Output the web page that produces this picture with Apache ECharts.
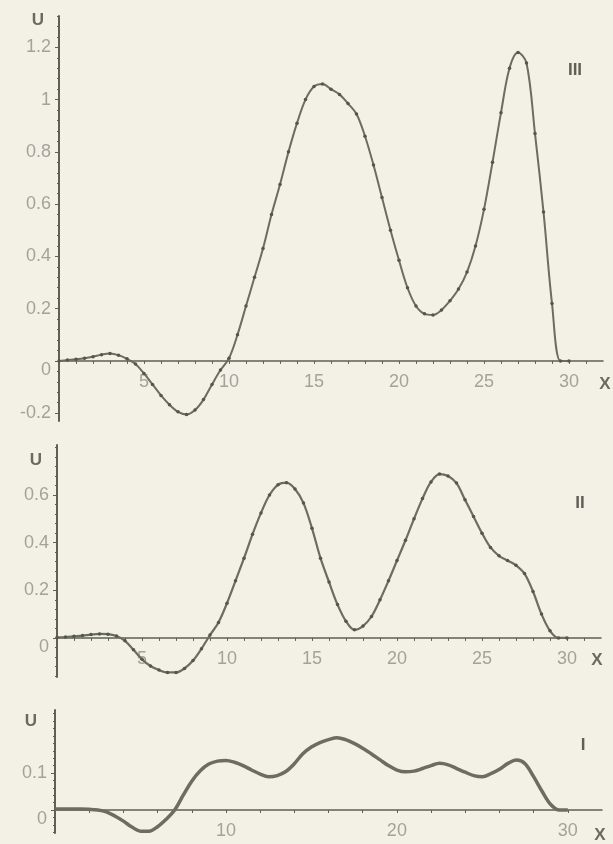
<!DOCTYPE html>
<html>
<head>
<meta charset="utf-8">
<script src="https://cdn.jsdelivr.net/npm/echarts@6/dist/echarts.min.js"></script>
<style>
  html, body { margin: 0; padding: 0; background: #f3f1e6; }
  #chart { width: 613px; height: 844px; }
</style>
</head>
<body>
<div id="chart"></div>
<script>
// x positions (same for the three profiles)
const xs = [0, 0.5, 1, 1.5, 2, 2.5, 3, 3.5, 4, 4.5, 5, 5.5, 6, 6.5, 7, 7.5, 8, 8.5, 9, 9.5,
  10, 10.5, 11, 11.5, 12, 12.5, 13, 13.5, 14, 14.5, 15, 15.5, 16, 16.5, 17, 17.5, 18, 18.5, 19, 19.5,
  20, 20.5, 21, 21.5, 22, 22.5, 23, 23.5, 24, 24.5, 25, 25.5, 26, 26.5, 27, 27.5, 28, 28.5, 29, 29.5, 30];

// profile III (top)
const u3 = [0, 0.003, 0.006, 0.01, 0.016, 0.024, 0.028, 0.022, 0.008, -0.012,
  -0.048, -0.09, -0.132, -0.168, -0.195, -0.205, -0.188, -0.148, -0.09, -0.035,
  0.01, 0.1, 0.21, 0.32, 0.43, 0.56, 0.675, 0.8, 0.91, 1.0,
  1.05, 1.06, 1.04, 1.02, 0.985, 0.945, 0.86, 0.75, 0.625, 0.5,
  0.385, 0.28, 0.21, 0.18, 0.176, 0.195, 0.23, 0.275, 0.34, 0.44,
  0.58, 0.76, 0.95, 1.12, 1.18, 1.14, 0.87, 0.57, 0.22, 0, 0];

// profile II (middle)
const u2 = [0.002, 0.004, 0.007, 0.01, 0.014, 0.017, 0.016, 0.008, -0.012, -0.05,
  -0.09, -0.118, -0.135, -0.145, -0.145, -0.128, -0.095, -0.045, 0.012, 0.065,
  0.146, 0.24, 0.335, 0.435, 0.525, 0.6, 0.643, 0.652, 0.625, 0.566,
  0.46, 0.335, 0.235, 0.14, 0.07, 0.034, 0.05, 0.09, 0.16, 0.24,
  0.325, 0.41, 0.5, 0.585, 0.655, 0.688, 0.68, 0.65, 0.58, 0.51,
  0.44, 0.38, 0.345, 0.325, 0.305, 0.27, 0.195, 0.1, 0.03, 0, 0];

// profile I (bottom)
const u1 = [0.003, 0.003, 0.003, 0.003, 0.002, 0, -0.005, -0.016, -0.03, -0.046,
  -0.057, -0.057, -0.045, -0.025, 0, 0.04, 0.078, 0.106, 0.124, 0.132,
  0.134, 0.129, 0.12, 0.108, 0.097, 0.09, 0.093, 0.104, 0.125, 0.152,
  0.17, 0.182, 0.19, 0.195, 0.19, 0.18, 0.167, 0.152, 0.136, 0.12,
  0.108, 0.103, 0.105, 0.112, 0.12, 0.126, 0.122, 0.112, 0.102, 0.093,
  0.09, 0.098, 0.11, 0.126, 0.135, 0.125, 0.09, 0.05, 0.015, 0, 0];

// tick labels
const xLabels3 = [5, 10, 15, 20, 25, 30];
const xLabels2 = [5, 10, 15, 20, 25, 30];
const xLabels1 = [10, 20, 30];
const yLabels3 = [-0.2, 0, 0.2, 0.4, 0.6, 0.8, 1, 1.2];
const yLabels2 = [0, 0.2, 0.4, 0.6];
const yLabels1 = [0, 0.1];

const axisColor = '#5e6052';
const labelColor = '#a3a39b';
const curveColor = '#6c6c62';
const font = 'Liberation Sans, Arial, sans-serif';

// panel boxes: [left, top, width, height, yMin, yMax]
const boxes = [
  [59, 16, 544, 405, -0.23, 1.32],
  [57, 445, 544, 232, -0.164, 0.81],
  [55, 710, 547, 123, -0.062, 0.27]
];

function steps(from, to, step) {
  const out = [];
  for (let v = from; v <= to + 1e-9; v += step) out.push(+v.toFixed(3));
  return out;
}
const fmt = v => String(+(+v).toFixed(2));

// x axis drawn through u = 0: shift it up from the grid bottom
function xAxisFor(grid, labels, tickStep) {
  const b = boxes[grid];
  const zeroFromBottom = b[3] * (0 - b[4]) / (b[5] - b[4]);
  return {
    type: 'value', gridIndex: grid, min: 0, max: 32, position: 'bottom',
    offset: -zeroFromBottom,
    axisLine: { onZero: false, lineStyle: { color: axisColor, width: 1.5 } },
    axisTick: { customValues: steps(tickStep, 31, tickStep), length: 3, lineStyle: { color: axisColor } },
    axisLabel: { customValues: labels, margin: 12, color: labelColor, fontSize: 18, fontFamily: font, formatter: fmt },
    splitLine: { show: false }
  };
}
function yMain(grid, labels) {
  const b = boxes[grid];
  return {
    type: 'value', gridIndex: grid, min: b[4], max: b[5], position: 'left',
    axisLine: { show: true, onZero: false, lineStyle: { color: axisColor, width: 2 } },
    axisTick: { customValues: labels, length: 4, lineStyle: { color: axisColor } },
    axisLabel: { customValues: labels.filter(v => v !== 0), margin: 8, color: labelColor, fontSize: 18, fontFamily: font, formatter: fmt },
    splitLine: { show: false }
  };
}
function yMinor(grid, minorStep) {
  const b = boxes[grid];
  return {
    type: 'value', gridIndex: grid, min: b[4], max: b[5], position: 'left', offset: 0,
    axisLine: { show: false, onZero: false },
    axisTick: { customValues: steps(Math.ceil(b[4] / minorStep) * minorStep, b[5], minorStep), length: 2, lineStyle: { color: axisColor } },
    axisLabel: { customValues: [0], margin: 8, verticalAlign: 'top', color: labelColor, fontSize: 18, fontFamily: font, formatter: fmt },
    splitLine: { show: false }
  };
}
function curve(xIdx, yIdx, values, width, dots) {
  return {
    type: 'line', xAxisIndex: xIdx, yAxisIndex: yIdx,
    data: xs.map((x, i) => [x, values[i]]),
    smooth: 0.35,
    showSymbol: dots, symbol: 'circle', symbolSize: 3.5,
    itemStyle: { color: '#55554b' },
    lineStyle: { color: curveColor, width: width },
    silent: true
  };
}
function txt(x, y, s, size, bold, color) {
  return {
    type: 'text', x: x, y: y,
    style: { text: s, fill: color, font: (bold ? 'bold ' : '') + size + 'px ' + font, align: 'center', verticalAlign: 'middle' }
  };
}

const chart = echarts.init(document.getElementById('chart'));
chart.setOption({
  backgroundColor: '#f3f1e6',
  animation: false,
  grid: boxes.map(b => ({ left: b[0], top: b[1], width: b[2], height: b[3] })),
  xAxis: [
    xAxisFor(0, xLabels3, 1),
    xAxisFor(1, xLabels2, 1),
    xAxisFor(2, xLabels1, 2)
  ],
  yAxis: [
    yMain(0, yLabels3), yMinor(0, 0.04),
    yMain(1, yLabels2), yMinor(1, 0.04),
    yMain(2, yLabels1), yMinor(2, 0.02)
  ],
  series: [
    curve(0, 0, u3, 2, true),
    curve(1, 2, u2, 2.2, true),
    curve(2, 4, u1, 3.5, false)
  ],
  graphic: [
    txt(38, 20, 'U', 17, true, '#6a6a61'),
    txt(36, 460, 'U', 17, true, '#6a6a61'),
    txt(31, 721, 'U', 17, true, '#6a6a61'),
    txt(605, 384, 'X', 17, true, '#6a6a61'),
    txt(597, 660, 'X', 17, true, '#6a6a61'),
    txt(600, 835, 'X', 17, true, '#6a6a61'),
    txt(575, 70, 'III', 17, true, '#5f5f57'),
    txt(580, 503, 'II', 17, true, '#5f5f57'),
    txt(583, 745, 'I', 17, true, '#5f5f57')
  ]
});
</script>
</body>
</html>
